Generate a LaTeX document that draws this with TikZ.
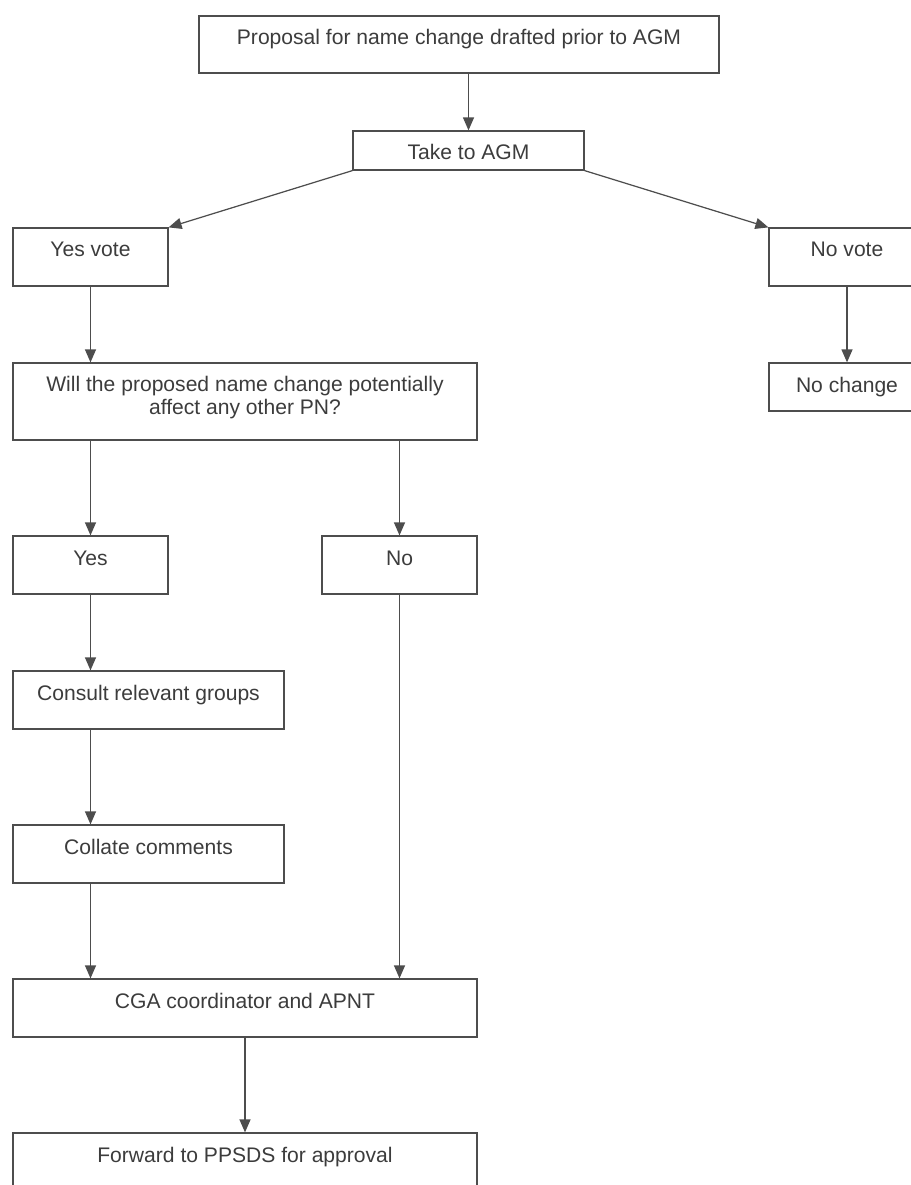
\documentclass[tikz,border=0pt]{standalone}
\usepackage{fontspec}
\setmainfont{Liberation Sans}
\usetikzlibrary{arrows.meta}
\definecolor{boxline}{HTML}{4D4D4D}
\definecolor{boxtext}{HTML}{3C3C3C}
\begin{document}
\begin{tikzpicture}[x=0.02cm,y=-0.02cm,every node/.style={draw=boxline,text=boxtext,line width=0.7pt,inner sep=0pt,align=center,text height=0.58cm,text depth=0.58cm,minimum width=3.1cm,font=\fontsize{12}{13.1}\selectfont},>={Triangle[length=0.26cm,width=0.22cm]}]
 \clip (0,0) rectangle (911,1185);
 \node (prop) at (459,44.5) [minimum width=10.4cm,text depth=0.56cm] {Proposal for name change drafted prior to AGM};
 \node (take) at (468.5,150.5) [minimum width=4.62cm,text depth=0.2cm] {Take to AGM};
 \node (yesv) at (90.5,257) {Yes vote};
 \node (novote) at (847,257) [minimum width=3.12cm] {No vote};
 \node (will) at (245,401.5) [minimum width=9.28cm,text height=1.04cm,text depth=0.5cm] {Will the proposed name change potentially\\affect any other PN?};
 \node (nochange) at (847,387) [minimum width=3.12cm,text depth=0.38cm] {No change};
 \node (yes) at (90.5,565) {Yes};
 \node (no) at (399.5,565) {No};
 \node (consult) at (148.5,700) [minimum width=5.42cm] {Consult relevant groups};
 \node (collate) at (148.5,854) [minimum width=5.42cm] {Collate comments};
 \node (cga) at (245,1008) [minimum width=9.28cm] {CGA coordinator and APNT};
 \node (fwd) at (245,1162) [minimum width=9.28cm] {Forward to PPSDS for approval};

 \draw [->,boxline,line width=0.7pt] (take.south west) -- (yesv.north east);
 \draw [->,boxline,line width=0.7pt] (take.south east) -- (novote.north west);
 \foreach \from/\to/\lane in 
{prop/take/take,yesv/will/yesv,will/yes/yes,will/no/no,yes/consult/yes,consult/collate/yes,collate/cga/yes,no/cga/no,cga/fwd/cga,novote/nochange/novote}
 \draw [->,boxline,line width=0.7pt] (\lane.center |- \from.south) -- (\lane.center |- \to.north);
\end{tikzpicture}
\end{document}
